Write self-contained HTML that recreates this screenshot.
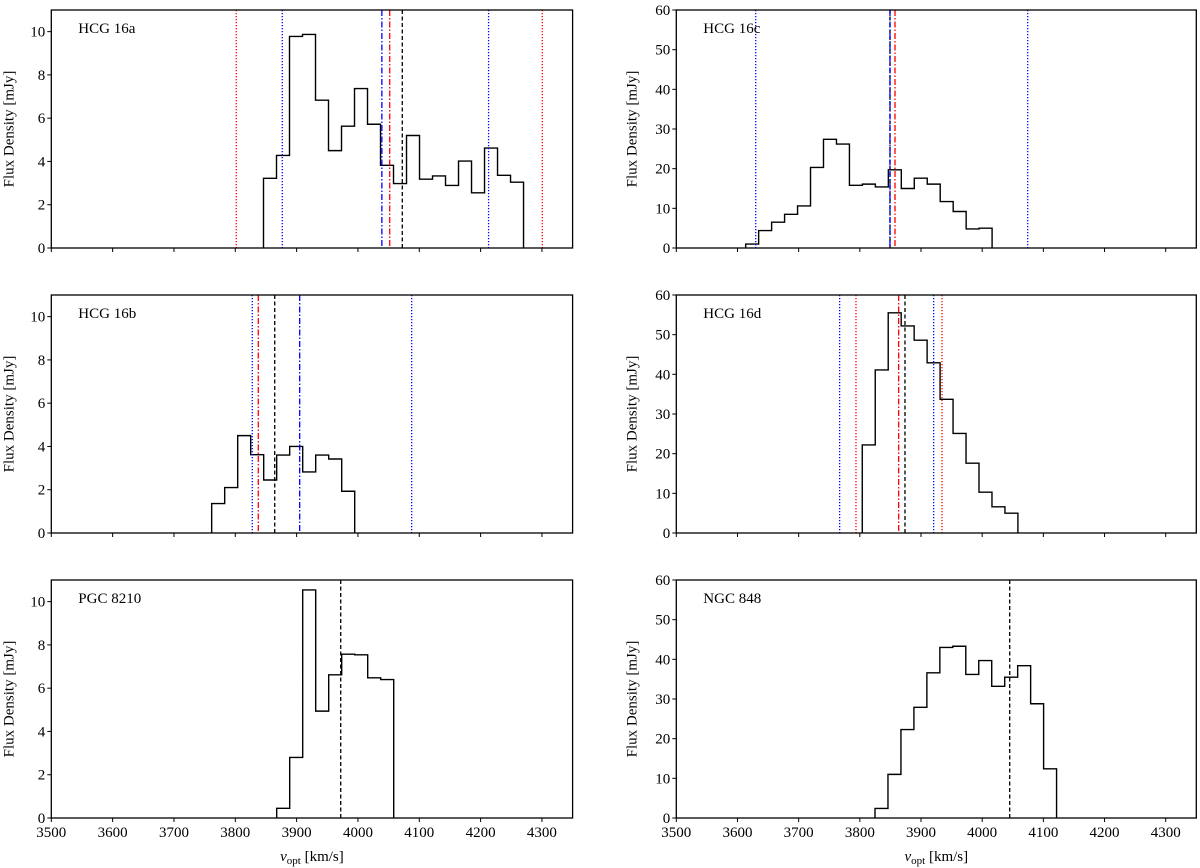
<!DOCTYPE html>
<html><head><meta charset="utf-8"><style>
html,body{margin:0;padding:0;background:#fff;}
svg{display:block;font-family:"Liberation Serif","DejaVu Serif",serif;}
</style></head><body>
<svg id="fig" width="1200" height="868" viewBox="0 0 1200 868" xmlns="http://www.w3.org/2000/svg"></svg>
<script>
// ---- data (km/s, mJy) ----
const binWidth = 21.2;
const aStart = 3846, aValues = [3.22,4.28,9.78,9.87,6.83,4.5,5.63,7.37,5.72,3.82,2.98,5.2,3.18,3.33,2.89,4.02,2.55,4.62,3.36,3.04];
const aLinesV = [3801.6,3876.6,4039,4051.8,4072.3,4213,4300.6];
const aLinesKind = ['red-dotted','blue-dotted','blue-dashdot','red-dashdot','black-dashed','blue-dotted','red-dotted'];
const cStart = 3613.4, cValues = [1.0,4.4,6.5,8.5,10.6,20.3,27.4,26.2,15.8,16.1,15.4,19.7,15.0,17.6,16.1,11.7,9.2,4.8,5.0];
const cLinesV = [3629.8,3849.3,3849.3,3857.5,4074.4];
const cLinesKind = ['blue-dotted','black-dashed','blue-dashdot','red-dashdot','blue-dotted'];
const bStart = 3761.5, bValues = [1.36,2.1,4.5,3.62,2.45,3.6,4.0,2.82,3.6,3.42,1.93];
const bLinesV = [3827.7,3837.5,3864.3,3905,4087.6];
const bLinesKind = ['blue-dotted','red-dashdot','black-dashed','blue-dashdot','blue-dotted'];
const dStart = 3804, dValues = [22.2,41.1,55.5,52.2,48.6,42.9,33.7,25.1,17.6,10.3,6.6,5.0];
const dLinesV = [3767,3793.7,3863.5,3873.8,3920.7,3934.3];
const dLinesKind = ['blue-dotted','red-dotted','red-dashdot','black-dashed','blue-dotted','red-dotted'];
const pStart = 3867.5, pValues = [0.45,2.8,10.54,4.94,6.62,7.57,7.54,6.48,6.4];
const pLinesV = [3971.9];
const pLinesKind = ['black-dashed'];
const nStart = 3824.8, nValues = [2.4,11.0,22.3,27.9,36.6,43.0,43.3,36.2,39.7,33.2,35.5,38.4,28.8,12.4];
const nLinesV = [4045];
const nLinesKind = ['black-dashed'];
const xTicks = [3500,3600,3700,3800,3900,4000,4100,4200,4300];
const yTicksSmall = [0,2,4,6,8,10];
const yTicksLarge = [0,10,20,30,40,50,60];

const NS='http://www.w3.org/2000/svg';
const svg=document.getElementById('fig');
function mk(tag,attrs,parent){const e=document.createElementNS(NS,tag);for(const k in attrs)e.setAttribute(k,attrs[k]);(parent||svg).appendChild(e);return e;}
const styles={
 'red-dotted':{stroke:'#f00',dash:'1.2,1.8'},
 'blue-dotted':{stroke:'#00f',dash:'1.2,1.8'},
 'red-dashdot':{stroke:'#f00',dash:'6,2,1.5,2'},
 'blue-dashdot':{stroke:'#00f',dash:'6,2,1.5,2'},
 'black-dashed':{stroke:'#000',dash:'4,2.5'}
};
function panel(name,title,left,right,top,bottom,ymax,yTicks,start,values,linesV,linesKind,showX){
 const g=mk('g',{});
 
 
 const xs=v=>left+(v-3500)/(4350-3500)*(right-left);
 const ys=y=>bottom-y/ymax*(bottom-top);
 let d='M'+xs(start)+','+ys(0);
 values.forEach((v,i)=>{const x0=xs(start+i*binWidth),x1=xs(start+(i+1)*binWidth);d+=' L'+x0+','+ys(v)+' L'+x1+','+ys(v);});
 d+=' L'+xs(start+values.length*binWidth)+','+ys(0);
 const h=mk('path',{d:d,fill:'none',stroke:'#000','stroke-width':1.4},g);
 
 
 linesV.forEach((v,i)=>{const s=styles[linesKind[i]];
  const l=mk('line',{x1:xs(v),x2:xs(v),y1:top,y2:bottom,stroke:s.stroke,'stroke-width':1.3,'stroke-dasharray':s.dash},g);
  
  
 });
 const f=mk('rect',{x:left,y:top,width:right-left,height:bottom-top,fill:'none',stroke:'#000','stroke-width':1.3},g);
 
 
 xTicks.forEach(t=>{const x=xs(t);mk('line',{x1:x,x2:x,y1:bottom,y2:bottom+4,stroke:'#000','stroke-width':1},g);
  if(showX){const tx=mk('text',{x:x,y:bottom+19,'font-size':15,'text-anchor':'middle'},g);tx.textContent=t;
   
   }
 });
 yTicks.forEach(t=>{const y=ys(t);mk('line',{x1:left-4,x2:left,y1:y,y2:y,stroke:'#000','stroke-width':1},g);
  const tx=mk('text',{x:left-6,y:y+5,'font-size':15,'text-anchor':'end'},g);tx.textContent=t;
  
  
 });
 const tt=mk('text',{x:left+27,y:top+23,'font-size':15},g);tt.textContent=title;
 
 
 const yl=mk('text',{x:0,y:0,'font-size':15,'text-anchor':'middle',transform:'translate('+(left-(ymax>20?40:38))+','+((top+bottom)/2)+') rotate(-90)'},g);
 yl.textContent='Flux Density [mJy]';
 
 
 if(showX){const xl=mk('text',{x:(left+right)/2,y:bottom+43,'font-size':15,'text-anchor':'middle'},g);
  xl.innerHTML='<tspan font-style="italic">v</tspan><tspan font-size="11" dy="3">opt</tspan><tspan dy="-3"> [km/s]</tspan>';
  
  }
}
const L=[51.3,572.6], R=[676.3,1196.3];
panel('panel-hcg16a','HCG 16a',L[0],L[1],10,248,11,yTicksSmall,aStart,aValues,aLinesV,aLinesKind,false);
panel('panel-hcg16c','HCG 16c',R[0],R[1],10,248,60,yTicksLarge,cStart,cValues,cLinesV,cLinesKind,false);
panel('panel-hcg16b','HCG 16b',L[0],L[1],295,533,11,yTicksSmall,bStart,bValues,bLinesV,bLinesKind,false);
panel('panel-hcg16d','HCG 16d',R[0],R[1],295,533,60,yTicksLarge,dStart,dValues,dLinesV,dLinesKind,false);
panel('panel-pgc8210','PGC 8210',L[0],L[1],580,818,11,yTicksSmall,pStart,pValues,pLinesV,pLinesKind,true);
panel('panel-ngc848','NGC 848',R[0],R[1],580,818,60,yTicksLarge,nStart,nValues,nLinesV,nLinesKind,true);
</script>
</body></html>
